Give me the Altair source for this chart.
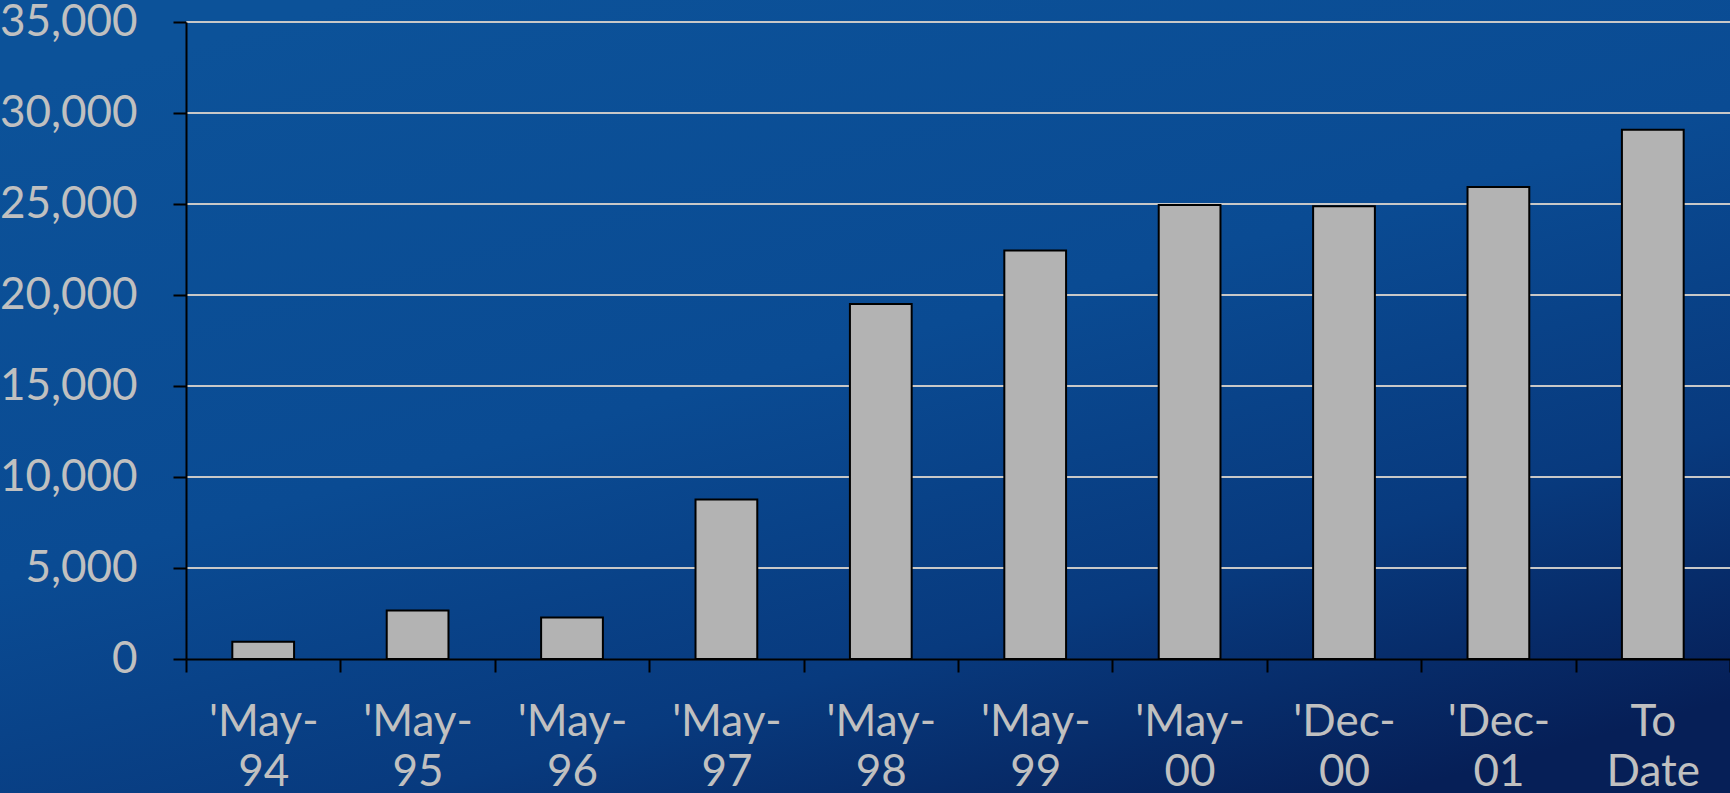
import altair as alt
import pandas as pd

categories = ["'May-|94", "'May-|95", "'May-|96", "'May-|97", "'May-|98",
              "'May-|99", "'May-|00", "'Dec-|00", "'Dec-|01", "To|Date"]
values = [950, 2670, 2280, 8770, 19500, 22450, 24950, 24870, 25930, 29080]
y_ticks = [0, 5000, 10000, 15000, 20000, 25000, 30000, 35000]

W, H = 1544, 637
PAD_L, PAD_T, PAD_B = 186, 22, 134

df = pd.DataFrame({"cat": categories, "val": values})
grid_df = pd.DataFrame({"v": y_ticks[1:]})

FONT = "Lato"
TXT = "#c0c0c0"

bg = alt.Chart(alt.Data(values=[{}])).mark_rect(
    fill=alt.Gradient(
        gradient="linear",
        x1=0.2, y1=0, x2=0.8, y2=1,
        stops=[
            alt.GradientStop(color="#0c5299", offset=0),
            alt.GradientStop(color="#0a4b93", offset=0.45),
            alt.GradientStop(color="#083a7e", offset=0.75),
            alt.GradientStop(color="#061f57", offset=1),
        ],
    )
).encode(
    x=alt.value(-PAD_L), x2=alt.value(W + 10),
    y=alt.value(-PAD_T), y2=alt.value(H + PAD_B),
)

yscale = alt.Scale(domain=[0, 35000], nice=False)
yaxis = alt.Axis(
    values=y_ticks, labelExpr="format(datum.value, ',')",
    labelFont=FONT, labelFontSize=44,
    labelColor=TXT, labelPadding=36,
    tickColor="#000000", tickSize=13, tickWidth=2,
    domainColor="#000000", domainWidth=2, grid=False, zindex=1,
)

grid = alt.Chart(grid_df).mark_rule(color="#c8c8c8", strokeWidth=2).encode(
    y=alt.Y("v:Q", scale=yscale, axis=yaxis, title=None),
)

bars = alt.Chart(df).mark_bar(
    color="#b3b3b3", stroke="#000000", strokeWidth=2,
    width=alt.RelativeBandSize(0.4),
).encode(
    x=alt.X("cat:N", sort=categories, title=None,
            scale=alt.Scale(paddingInner=0, paddingOuter=0),
            axis=alt.Axis(
                labelExpr="datum.value ? split(datum.value, '|') : ''",
                labelAngle=0, labelFont=FONT, labelFontSize=44,
                labelColor=TXT, labelLineHeight=50, labelPadding=28,
                labelBaseline="top",
                tickBand="extent", tickColor="#000000", tickSize=13, tickWidth=2,
                domainColor="#000000", domainWidth=2, grid=False, zindex=1,
            )),
    y=alt.Y("val:Q", scale=yscale, title=None, axis=yaxis),
)

chart = alt.layer(bg, grid, bars).properties(
    width=W, height=H,
    padding={"left": PAD_L, "top": PAD_T, "right": 0, "bottom": PAD_B},
    autosize=alt.AutoSizeParams(type="none"),
    background="#0a4a92",
).configure_view(stroke=None)

chart.save("out.html", embed_options={"renderer": "svg", "actions": False})
